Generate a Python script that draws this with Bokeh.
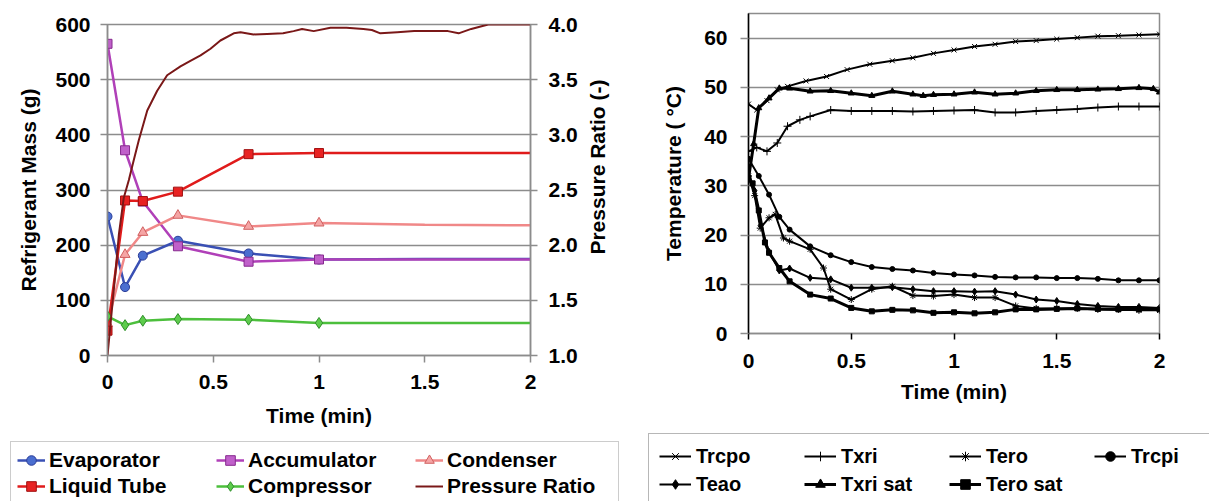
import math
from bokeh.plotting import figure
from bokeh.models import (Range1d, LinearAxis, FixedTicker, Legend, LegendItem,
                          ColumnDataSource, CDSView, IndexFilter)
from bokeh.layouts import row, column
from bokeh.core.properties import value
from bokeh.embed import file_html
from bokeh.resources import INLINE

# ---------------- data: left chart (refrigerant mass) ----------------
t_mass = [0, 0.083, 0.167, 0.333, 0.667, 1.0, 1.5, 2.0]
n_marked = 6
evaporator = [252, 124, 181, 208, 185, 174, 175, 175]
accumulator = [565, 372, 279, 198, 170, 174, 174, 174]
condenser = [58, 183, 223, 254, 234, 240, 237, 236]
liquid_tube = [45, 281, 280, 297, 365, 367, 367, 367]
compressor = [71, 55, 63, 66, 65, 59, 59, 59]

pr_t = [0, 0.02, 0.04, 0.054, 0.077, 0.101, 0.124, 0.148, 0.188, 0.235, 0.282,
        0.345, 0.392, 0.44, 0.487, 0.534, 0.597, 0.629, 0.69, 0.755, 0.83, 0.88,
        0.92, 0.975, 1.054, 1.13, 1.21, 1.25, 1.29, 1.37, 1.45, 1.53, 1.61, 1.66,
        1.72, 1.76, 1.8, 1.9, 2.0]
pressure_ratio = [1.0, 1.4, 1.8, 2.1, 2.43, 2.59, 2.77, 2.95, 3.22, 3.40, 3.54,
                  3.62, 3.67, 3.72, 3.78, 3.855, 3.92, 3.93, 3.91, 3.915, 3.92, 3.94,
                  3.96, 3.94, 3.97, 3.97, 3.96, 3.95, 3.92, 3.93, 3.94, 3.94, 3.94, 3.92,
                  3.96, 3.98, 4.0, 4.0, 4.0]

x_ticks = [0, 0.5, 1, 1.5, 2]
x_tick_labels = ["0", "0.5", "1", "1.5", "2"]
mass_ticks = [0, 100, 200, 300, 400, 500, 600]
pr_ticks = [1.0, 1.5, 2.0, 2.5, 3.0, 3.5, 4.0]
pr_tick_labels = ["1.0", "1.5", "2.0", "2.5", "3.0", "3.5", "4.0"]
temp_ticks = [0, 10, 20, 30, 40, 50, 60]

# ---------------- data: right chart (temperatures) ----------------
trcpo_t = [0, 0.04, 0.09, 0.14, 0.19, 0.28, 0.38, 0.48, 0.59, 0.7, 0.8, 0.9, 1.0,
           1.1, 1.2, 1.3, 1.4, 1.5, 1.6, 1.7, 1.8, 1.9, 2.0]
trcpo = [46.6, 45.4, 47.3, 49.5, 50.2, 51.3, 52.2, 53.6, 54.7, 55.4, 56.0, 56.9, 57.6,
         58.3, 58.75, 59.3, 59.5, 59.8, 60.1, 60.4, 60.5, 60.65, 60.8]

txri_t = [0, 0.04, 0.09, 0.14, 0.19, 0.25, 0.3, 0.4, 0.5, 0.6, 0.7, 0.8, 0.9, 1.0,
          1.1, 1.2, 1.3, 1.4, 1.5, 1.6, 1.7, 1.8, 1.9, 2.0]
txri = [37.0, 37.8, 37.0, 38.7, 42.1, 43.4, 44.1, 45.4, 45.2, 45.2, 45.2, 45.1, 45.2,
        45.3, 45.4, 44.9, 44.9, 45.2, 45.4, 45.6, 45.9, 46.1, 46.1, 46.1]

tero_t = [0, 0.03, 0.057, 0.1, 0.13, 0.17, 0.2, 0.3, 0.365, 0.4, 0.5, 0.6, 0.7, 0.8,
          0.9, 1.0, 1.1, 1.2, 1.3, 1.4, 1.5, 1.6, 1.7, 1.8, 1.9, 2.0]
tero = [32.0, 28.0, 21.4, 23.5, 24.2, 19.4, 18.75, 17.1, 13.3, 9.0, 6.9, 9.0, 9.6, 7.7,
        7.6, 7.9, 7.3, 7.3, 5.6, 5.1, 5.1, 5.1, 4.9, 4.9, 4.7, 4.7]

trcpi_t = [0, 0.05, 0.1, 0.15, 0.2, 0.3, 0.4, 0.5, 0.6, 0.7, 0.8, 0.9, 1.0, 1.1, 1.2,
           1.3, 1.4, 1.5, 1.6, 1.7, 1.8, 1.9, 2.0]
trcpi = [35.5, 32.0, 28.2, 23.7, 21.1, 17.7, 15.9, 14.5, 13.5, 13.1, 12.8, 12.3, 12.0,
         11.8, 11.5, 11.4, 11.4, 11.25, 11.25, 11.1, 10.8, 10.8, 10.8]

teao_t = [0, 0.03, 0.06, 0.1, 0.15, 0.2, 0.3, 0.4, 0.5, 0.6, 0.7, 0.8, 0.9, 1.0, 1.1,
          1.2, 1.3, 1.4, 1.5, 1.6, 1.7, 1.8, 1.9, 2.0]
teao = [31.5, 29.0, 22.0, 16.6, 12.8, 13.2, 11.3, 11.0, 9.3, 9.3, 9.4, 9.0, 8.6, 8.6,
        8.5, 8.6, 7.9, 6.9, 6.6, 6.0, 5.6, 5.4, 5.4, 5.2]

txri_sat_t = [0, 0.025, 0.05, 0.1, 0.15, 0.2, 0.3, 0.4, 0.5, 0.6, 0.7, 0.8, 0.85, 0.9,
              1.0, 1.1, 1.2, 1.3, 1.4, 1.5, 1.6, 1.7, 1.8, 1.9, 1.97, 2.0]
txri_sat = [31.5, 38.5, 45.8, 47.8, 49.8, 49.8, 49.2, 49.3, 48.8, 48.3, 49.2, 48.6, 48.3,
            48.5, 48.6, 49.0, 48.6, 48.8, 49.3, 49.5, 49.5, 49.6, 49.7, 49.9, 49.7, 49.0]

tero_sat_t = [0, 0.02, 0.05, 0.08, 0.1, 0.15, 0.2, 0.3, 0.4, 0.5, 0.6, 0.7, 0.8, 0.9,
              1.0, 1.1, 1.2, 1.3, 1.4, 1.5, 1.6, 1.7, 1.8, 1.9, 2.0]
tero_sat = [31.6, 30.5, 25.0, 18.5, 16.4, 13.3, 10.6, 7.9, 7.1, 5.2, 4.5, 4.8, 4.7, 4.2,
            4.3, 4.1, 4.3, 4.9, 4.9, 5.0, 5.1, 5.0, 4.9, 4.9, 4.9]

FONT = "Liberation Sans"
GRID = "#8c8c8c"


def style_axis(ax, tick_size="21px", label_size="21px", tick_color=GRID,
               line_color=GRID, tick_out=7, standoff=12, label_standoff=12):
    ax.major_label_text_font = FONT
    ax.major_label_text_font_style = "bold"
    ax.major_label_text_font_size = tick_size
    ax.major_label_text_color = "black"
    ax.axis_label_text_font = FONT
    ax.axis_label_text_font_style = "bold"
    ax.axis_label_text_font_size = label_size
    ax.axis_label_text_color = "black"
    ax.major_tick_line_color = tick_color
    ax.major_tick_line_width = 1.5
    ax.major_tick_out = tick_out
    ax.major_tick_in = 0
    ax.minor_tick_line_color = None
    ax.axis_line_color = line_color
    ax.axis_line_width = 1.5
    ax.major_label_standoff = standoff
    ax.axis_label_standoff = label_standoff


def blank_fig(w, h, xr, yr):
    f = figure(width=w, height=h, x_range=Range1d(*xr), y_range=Range1d(*yr),
               output_backend="svg", toolbar_location=None, title=None,
               x_axis_location=None, y_axis_location=None, min_border=0)
    f.grid.visible = False
    f.outline_line_color = None
    f.background_fill_color = "white"
    f.border_fill_color = "white"
    return f


# ================= left figure =================
p1 = figure(frame_width=423, frame_height=331, x_range=Range1d(0, 2),
            y_range=Range1d(0, 600), output_backend="svg", toolbar_location=None,
            title=None, min_border_left=107, min_border_right=53, min_border_top=24,
            min_border_bottom=85, x_axis_label="Time (min)",
            y_axis_label="Refrigerant Mass (g)")
p1.extra_y_ranges = {"pr": Range1d(1.0, 4.0)}
p1.background_fill_color = "white"
p1.border_fill_color = "white"
p1.outline_line_color = GRID
p1.outline_line_width = 1.5
p1.xgrid.grid_line_color = None
p1.ygrid.grid_line_color = GRID
p1.ygrid.grid_line_width = 1.5

p1.xaxis.ticker = FixedTicker(ticks=x_ticks)
p1.xaxis.major_label_overrides = dict(zip(x_ticks, x_tick_labels))
p1.yaxis.ticker = FixedTicker(ticks=mass_ticks)
style_axis(p1.xaxis[0], standoff=12, label_standoff=12)
style_axis(p1.yaxis[0], standoff=10, label_standoff=12)

ax_r = LinearAxis(y_range_name="pr", ticker=FixedTicker(ticks=pr_ticks),
                  major_label_overrides=dict(zip(pr_ticks, pr_tick_labels)))
style_axis(ax_r, standoff=11, label_standoff=6)
p1.add_layout(ax_r, "right")

mass_series = [
    ("Evaporator", evaporator, "#3A50B4", "#4A6ED0", "#2B3D98", "circle", 9),
    ("Accumulator", accumulator, "#B040B8", "#C060CA", "#862A8E", "square", 9),
    ("Condenser", condenser, "#F08888", "#F5A5A5", "#D06060", "triangle", 10),
    ("Liquid Tube", liquid_tube, "#E01B1B", "#E82222", "#A01010", "square", 9),
    ("Compressor", compressor, "#4CBF3C", "#5DCC4C", "#2E8E2A", "diamond", 11),
]
PR_COLOR = "#7A1818"

mass_sources = []
for name, vals, lc, fc, oc, mk, sz in mass_series:
    src = ColumnDataSource(dict(t=t_mass, v=vals))
    mass_sources.append(src)
    p1.line("t", "v", source=src, line_color=lc, line_width=2.5)
    p1.scatter("t", "v", source=src, marker=mk, size=sz, fill_color=fc,
               line_color=oc, line_width=1,
               view=CDSView(filter=IndexFilter(list(range(n_marked)))))

src_pr = ColumnDataSource(dict(t=pr_t, v=pressure_ratio))
p1.line("t", "v", source=src_pr, y_range_name="pr", line_color=PR_COLOR, line_width=2)

# right-axis title (reads bottom-to-top, as in the reference)
pr_lab = blank_fig(45, 440, (0, 45), (0, 440))
pr_lab.text(x=[14], y=[440 - 189.5], text=["Pressure Ratio (-)"], angle=math.pi / 2,
            text_align="center", text_baseline="middle", text_font=value(FONT),
            text_font_style="bold", text_font_size="21px", text_color="black")

# left legend (own strip below the chart; its ranges keep the data out of view)
lg1 = blank_fig(628, 61, (100, 101), (100000, 100001))
items1 = []
for (name, vals, lc, fc, oc, mk, sz), src in zip(mass_series, mass_sources):
    lr = lg1.line("t", "v", source=src, line_color=lc, line_width=2.5)
    sr = lg1.scatter("t", "v", source=src, marker=mk, size=sz - 1, fill_color=fc,
                     line_color=oc, line_width=1)
    items1.append(LegendItem(label=name, renderers=[lr, sr]))
lr = lg1.line("t", "v", source=src_pr, line_color=PR_COLOR, line_width=2)
items1.append(LegendItem(label="Pressure Ratio", renderers=[lr]))

leg1 = Legend(items=items1, location=(10, -4), orientation="horizontal", ncols=3,
              label_text_font=FONT, label_text_font_style="bold",
              label_text_font_size="21px", label_text_color="black",
              glyph_width=28, glyph_height=24, label_height=24, label_width=165,
              label_standoff=4, spacing=2, padding=6, margin=0,
              border_line_color="#9a9a9a", border_line_width=1.5,
              background_fill_color="white", background_fill_alpha=1)
lg1.add_layout(leg1, "center")

# ================= right figure =================
p2 = figure(frame_width=411, frame_height=320, x_range=Range1d(0, 2),
            y_range=Range1d(0, 65), output_backend="svg", toolbar_location=None,
            title=None, min_border_left=120, min_border_right=50, min_border_top=13,
            min_border_bottom=97, x_axis_label="Time (min)",
            y_axis_label="Temperature ( °C)")
p2.background_fill_color = "white"
p2.border_fill_color = "white"
p2.outline_line_color = GRID
p2.outline_line_width = 1.5
p2.xgrid.grid_line_color = None
p2.ygrid.grid_line_color = GRID
p2.ygrid.grid_line_width = 1.3
p2.xaxis.ticker = FixedTicker(ticks=x_ticks)
p2.xaxis.major_label_overrides = dict(zip(x_ticks, x_tick_labels))
p2.yaxis.ticker = FixedTicker(ticks=temp_ticks)
style_axis(p2.xaxis[0], tick_color="black", line_color=GRID, tick_out=6,
           standoff=14, label_standoff=9)
style_axis(p2.yaxis[0], tick_color=GRID, line_color="black", tick_out=8,
           standoff=13, label_standoff=16)

temp_series = [
    ("Trcpo", trcpo_t, trcpo, "x", 7, 2),
    ("Txri", txri_t, txri, "cross", 8, 2),
    ("Tero", tero_t, tero, "asterisk", 7, 2),
    ("Trcpi", trcpi_t, trcpi, "circle", 5, 2),
    ("Teao", teao_t, teao, "diamond", 7, 2),
    ("Txri sat", txri_sat_t, txri_sat, "triangle", 6, 3),
    ("Tero sat", tero_sat_t, tero_sat, "square", 5, 3),
]
temp_sources = []
for name, tt, vals, mk, sz, lw in temp_series:
    src = ColumnDataSource(dict(t=tt, v=vals))
    temp_sources.append(src)
    p2.line("t", "v", source=src, line_color="black", line_width=lw)
    p2.scatter("t", "v", source=src, marker=mk, size=sz, fill_color="black",
               line_color="black", line_width=1)

lg2 = blank_fig(581, 71, (100, 101), (100000, 100001))
items2 = []
for (name, tt, vals, mk, sz, lw), src in zip(temp_series, temp_sources):
    lr = lg2.line("t", "v", source=src, line_color="black", line_width=lw)
    sr = lg2.scatter("t", "v", source=src, marker=mk, size=sz, fill_color="black",
                     line_color="black", line_width=1)
    items2.append(LegendItem(label=name, renderers=[lr, sr]))

leg2 = Legend(items=items2, location=(20, -6), orientation="horizontal", ncols=4,
              label_text_font=FONT, label_text_font_style="bold",
              label_text_font_size="20px", label_text_color="black",
              glyph_width=32, glyph_height=24, label_height=24, label_width=104,
              label_standoff=5, spacing=4, padding=10, margin=0,
              border_line_color="#707070", border_line_width=1,
              background_fill_color="white", background_fill_alpha=1)
lg2.add_layout(leg2, "center")

left_col = column(row(p1, pr_lab), lg1)
right_col = column(row(p2), lg2)
layout = row(left_col, right_col)
open("out.html", "w").write(file_html(layout, INLINE))
